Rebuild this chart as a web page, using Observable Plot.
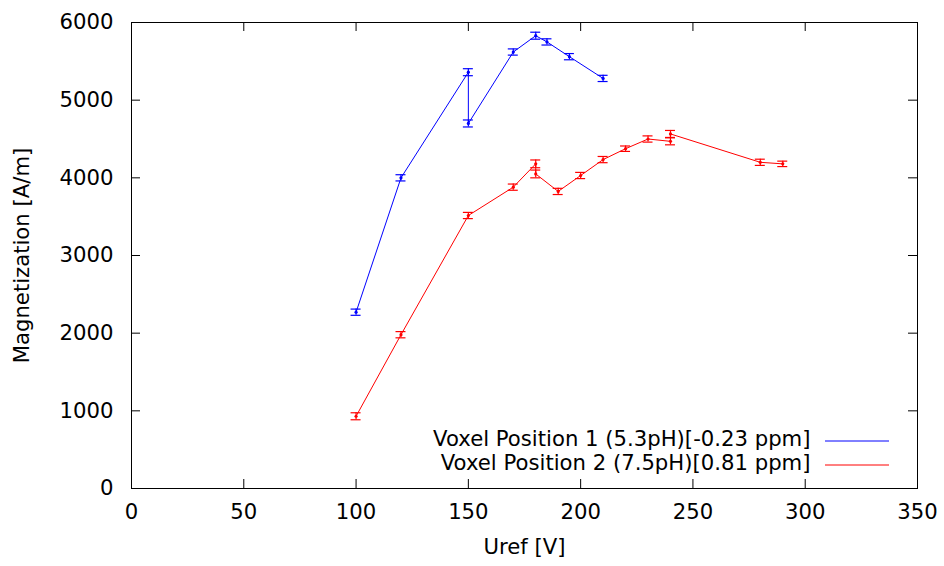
<!DOCTYPE html>
<html>
<head>
<meta charset="utf-8">
<script src="https://cdn.jsdelivr.net/npm/d3@7"></script>
<script src="https://cdn.jsdelivr.net/npm/@observablehq/plot@0.6"></script>
<style>
  html, body { margin: 0; padding: 0; background: #fff; }
  #chart { width: 944px; height: 566px; }
</style>
</head>
<body>
<div id="chart"></div>
<script>
// ---- data ----
const seriesNames = ["Voxel Position 1 (5.3pH)[-0.23 ppm]", "Voxel Position 2 (7.5pH)[0.81 ppm]"];
const seriesColors = ["#0000ff", "#ff0000"];

const blueX   = [100, 120, 150, 150, 170, 180, 185, 195, 210];
const blueY   = [2270, 4000, 5360, 4700, 5620, 5830, 5750, 5560, 5280];
const blueErr = [40, 40, 45, 45, 40, 45, 40, 40, 40];

const redX   = [100, 120, 150, 170, 180, 180, 190, 200, 210, 220, 230, 240, 240, 280, 290];
const redY   = [930, 1980, 3515, 3880, 4180, 4050, 3825, 4030, 4235, 4375, 4500, 4470, 4565, 4200, 4180];
const redErr = [45, 40, 40, 40, 50, 50, 40, 40, 40, 35, 40, 45, 45, 40, 35];

const xTicks = [0, 50, 100, 150, 200, 250, 300, 350];
const yTicks = [0, 1000, 2000, 3000, 4000, 5000, 6000];
const xLabel = "Uref [V]";
const yLabel = "Magnetization [A/m]";

// ---- build rows ----
const rows = [];
blueX.forEach((x, i) => rows.push({s: 0, i, x, y: blueY[i], e: blueErr[i]}));
redX.forEach((x, i) => rows.push({s: 1, i, x, y: redY[i], e: redErr[i]}));
const color = d => seriesColors[d.s];

const font = "DejaVu Sans";
const fs = 21.2;

const legendLines = (index, scales, values, dims) => {
  const g = d3.create("svg:g");
  const x2 = dims.width - dims.marginRight - 28;
  const x1 = x2 - 64;
  const yb = dims.height - dims.marginBottom;
  [-47, -23].forEach((dy, k) => {
    g.append("line")
      .attr("x1", x1).attr("x2", x2)
      .attr("y1", yb + dy).attr("y2", yb + dy)
      .attr("stroke", seriesColors[k]).attr("stroke-width", 1);
  });
  return g.node();
};

const chart = Plot.plot({
  width: 944,
  height: 566,
  marginLeft: 131,
  marginRight: 27,
  marginTop: 22,
  marginBottom: 78,
  style: {fontFamily: font, fontSize: fs + "px", color: "#000", background: "#fff"},
  x: {domain: [0, 350]},
  y: {domain: [0, 6000]},
  marks: [
    // inward tick marks on all four sides
    Plot.tickX(xTicks, {x: d => d, insetTop: 457, stroke: "#000"}),
    Plot.tickX(xTicks, {x: d => d, insetBottom: 457, stroke: "#000"}),
    Plot.tickY(yTicks, {y: d => d, insetRight: 777, stroke: "#000"}),
    Plot.tickY(yTicks, {y: d => d, insetLeft: 777, stroke: "#000"}),
    Plot.axisX({ticks: xTicks, tickSize: 0, tickPadding: 15, fontSize: fs, label: null, fill: "#000", tickFormat: d3.format("d")}),
    Plot.axisY({ticks: yTicks, tickSize: 0, tickPadding: 18, fontSize: fs, label: null, fill: "#000", tickFormat: d3.format("d")}),
    // series lines
    Plot.line(rows, {x: "x", y: "y", z: "s", stroke: color, strokeWidth: 1}),
    // error bars
    Plot.ruleX(rows, {x: "x", y1: d => d.y - d.e, y2: d => d.y + d.e, stroke: color, strokeWidth: 1.2}),
    Plot.ruleY(rows, {y: d => d.y + d.e, x1: "x", x2: "x", insetLeft: -5, insetRight: -5, stroke: color, strokeWidth: 1.2}),
    Plot.ruleY(rows, {y: d => d.y - d.e, x1: "x", x2: "x", insetLeft: -5, insetRight: -5, stroke: color, strokeWidth: 1.2}),
    Plot.dot(rows, {x: "x", y: "y", r: 1.6, fill: color, stroke: "none"}),
    Plot.frame({stroke: "#000", strokeWidth: 1}),
    // axis labels
    Plot.text([xLabel], {frameAnchor: "bottom", dy: 65, text: d => d, fontSize: fs, fill: "#000", textAnchor: "middle"}),
    Plot.text([yLabel], {frameAnchor: "left", dx: -109, rotate: -90, text: d => d, fontSize: fs, fill: "#000", textAnchor: "middle"}),
    // legend
    Plot.text([seriesNames[0]], {frameAnchor: "bottom-right", dx: -107, dy: -43, textAnchor: "end", text: d => d, fontSize: fs, fill: "#000"}),
    Plot.text([seriesNames[1]], {frameAnchor: "bottom-right", dx: -107, dy: -19, textAnchor: "end", text: d => d, fontSize: fs, fill: "#000"}),
    legendLines
  ]
});
document.getElementById("chart").append(chart);
</script>
</body>
</html>
